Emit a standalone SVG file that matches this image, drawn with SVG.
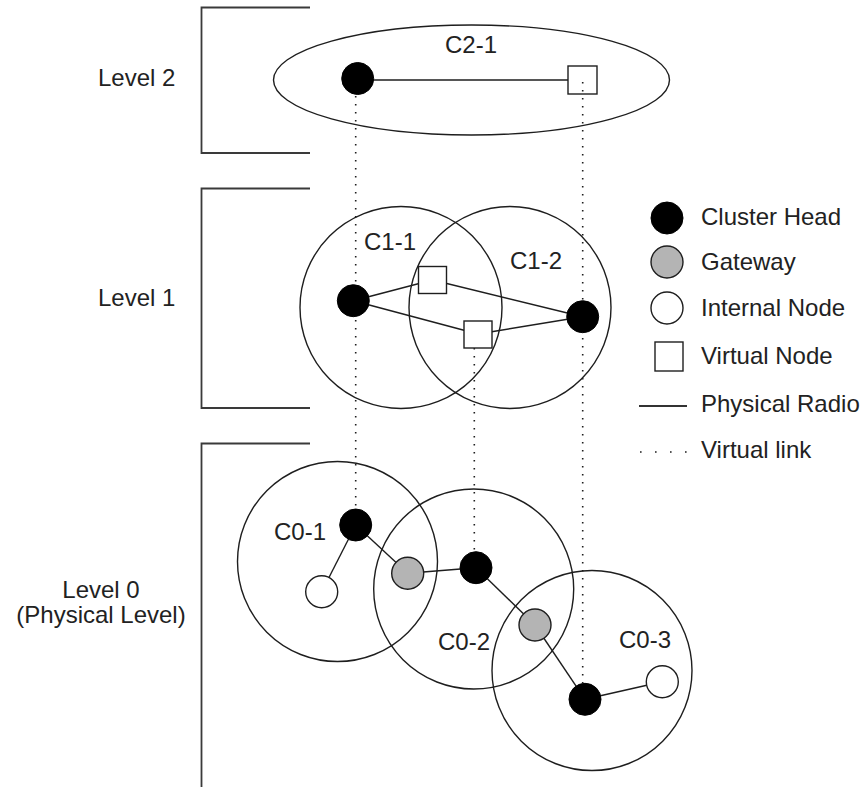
<svg xmlns="http://www.w3.org/2000/svg" width="867" height="787" viewBox="0 0 867 787">
  <style>
    text { font-family: "Liberation Sans", Arial, sans-serif; font-size: 24px; fill: #222; }
    .mid { text-anchor: middle; }
    .bracket { fill: none; stroke: #3a3a3a; stroke-width: 1.8; }
    .range { fill: none; stroke: #1e1e1e; stroke-width: 1.4; }
    .radio { stroke: #1e1e1e; stroke-width: 1.4; fill: none; }
    .vlink { stroke: #1e1e1e; stroke-width: 1.6; stroke-dasharray: 1.6 6.4; fill: none; }
    .head { fill: #000; stroke: #000; stroke-width: 1; }
    .gate { fill: #b4b4b4; stroke: #1e1e1e; stroke-width: 1.4; }
    .inner { fill: #fff; stroke: #1e1e1e; stroke-width: 1.4; }
    .virt { fill: #fff; stroke: #1e1e1e; stroke-width: 1.4; }
  </style>

  <rect width="867" height="787" fill="#fff"/>

  <!-- level brackets and captions -->
  <g id="level-2">
    <path class="bracket" d="M310 7.5 H201.5 V153 H310"/>
    <text x="98" y="86">Level 2</text>
  </g>
  <g id="level-1">
    <path class="bracket" d="M310 188.5 H201.5 V408 H310"/>
    <text x="98" y="306">Level 1</text>
  </g>
  <g id="level-0">
    <path class="bracket" d="M310 443.5 H201.5 V787"/>
    <text class="mid" x="101" y="598">Level 0</text>
    <text class="mid" x="101" y="623">(Physical Level)</text>
  </g>

  <!-- cluster ranges -->
  <g id="cluster-C2-1">
    <ellipse class="range" cx="471.5" cy="80" rx="198" ry="55"/>
    <text class="mid" x="471" y="53">C2-1</text>
  </g>
  <g id="cluster-C1-1">
    <circle class="range" cx="401" cy="307.5" r="101"/>
    <text class="mid" x="390" y="250">C1-1</text>
  </g>
  <g id="cluster-C1-2">
    <circle class="range" cx="510" cy="307.5" r="101"/>
    <text class="mid" x="536" y="269">C1-2</text>
  </g>
  <g id="cluster-C0-1">
    <circle class="range" cx="337.5" cy="561.5" r="100"/>
    <text class="mid" x="300" y="540">C0-1</text>
  </g>
  <g id="cluster-C0-2">
    <circle class="range" cx="473.7" cy="589" r="100"/>
    <text class="mid" x="464" y="650">C0-2</text>
  </g>
  <g id="cluster-C0-3">
    <circle class="range" cx="592" cy="670.5" r="100"/>
    <text class="mid" x="645" y="648">C0-3</text>
  </g>

  <!-- links: solid = physical radio, dotted = virtual -->
  <g id="connectors">
    <line class="vlink" x1="355.7" y1="96" x2="355.7" y2="508"/>
    <line class="vlink" x1="474.3" y1="348" x2="474.3" y2="551"/>
    <line class="vlink" x1="582.7" y1="82" x2="582.7" y2="683"/>

    <line class="radio" x1="357.7" y1="80" x2="568" y2="80"/>

    <line class="radio" x1="353.3" y1="300.7" x2="432.5" y2="280"/>
    <line class="radio" x1="432.5" y1="280" x2="582.7" y2="316.7"/>
    <line class="radio" x1="353.3" y1="300.7" x2="478" y2="334"/>
    <line class="radio" x1="478" y1="334" x2="582.7" y2="316.7"/>

    <line class="radio" x1="355.7" y1="525" x2="321.7" y2="591.7"/>
    <line class="radio" x1="355.7" y1="525" x2="407.7" y2="573.3"/>
    <line class="radio" x1="407.7" y1="573.3" x2="476" y2="567.7"/>
    <line class="radio" x1="476" y1="567.7" x2="535" y2="625"/>
    <line class="radio" x1="535" y1="625" x2="585" y2="699.3"/>
    <line class="radio" x1="585" y1="699.3" x2="662.3" y2="681.7"/>
  </g>

  <!-- level 2 nodes -->
  <g id="l2-head"><circle class="head" cx="357.7" cy="78.5" r="16"/></g>
  <g id="l2-virtual"><rect x="568" y="66" width="29" height="28" fill="none" stroke="#1e1e1e" stroke-width="1.4"/></g>

  <!-- level 1 nodes -->
  <g id="l1-head-1"><circle class="head" cx="353.3" cy="300.7" r="16"/></g>
  <g id="l1-virtual-1"><rect class="virt" x="418.5" y="266.5" width="28" height="27"/></g>
  <g id="l1-virtual-2"><rect class="virt" x="464" y="321" width="28" height="27"/></g>
  <g id="l1-head-2"><circle class="head" cx="582.7" cy="316.7" r="16"/></g>

  <!-- level 0 nodes -->
  <g id="l0-head-1"><circle class="head" cx="355.7" cy="525" r="16"/></g>
  <g id="l0-internal-1"><circle class="inner" cx="321.7" cy="591.7" r="16"/></g>
  <g id="l0-gateway-1"><circle class="gate" cx="407.7" cy="573.3" r="16"/></g>
  <g id="l0-head-2"><circle class="head" cx="476" cy="567.7" r="16"/></g>
  <g id="l0-gateway-2"><circle class="gate" cx="535" cy="625" r="16"/></g>
  <g id="l0-head-3"><circle class="head" cx="585" cy="699.3" r="16"/></g>
  <g id="l0-internal-3"><circle class="inner" cx="662.3" cy="681.7" r="16"/></g>

  <!-- legend -->
  <g id="legend">
    <circle class="head" cx="667" cy="218" r="16"/>
    <text x="701" y="225">Cluster Head</text>
    <circle class="gate" cx="667" cy="262" r="16"/>
    <text x="701" y="270">Gateway</text>
    <circle class="inner" cx="667" cy="308" r="16"/>
    <text x="701" y="316">Internal Node</text>
    <rect class="virt" x="655" y="342" width="28" height="29"/>
    <text x="701" y="364">Virtual Node</text>
    <line x1="639" y1="406" x2="687" y2="406" stroke="#333" stroke-width="1.8"/>
    <text x="701" y="412">Physical Radio</text>
    <line x1="640" y1="452" x2="690" y2="452" stroke="#1e1e1e" stroke-width="1.6" stroke-dasharray="1.6 13.4"/>
    <text x="701" y="458">Virtual link</text>
  </g>
</svg>
